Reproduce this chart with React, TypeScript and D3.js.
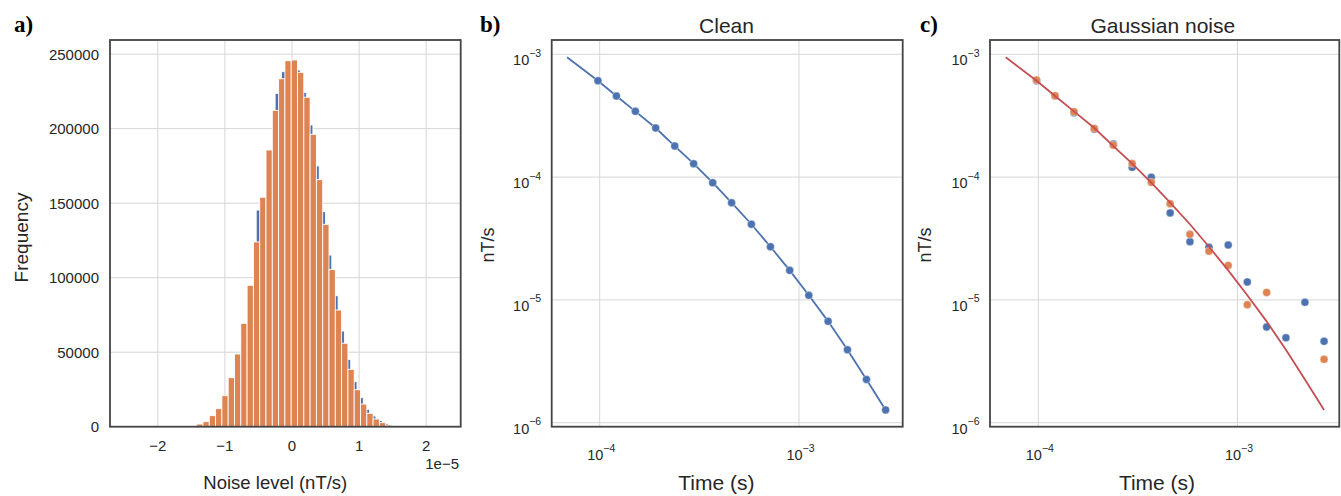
import React from 'react';
import * as d3 from 'd3';

// ---------- Panel a: histogram data (x in units of 1e-5 nT/s) ----------
const orangeCounts = [1800, 3400, 7400, 12100, 20800, 32900, 48800, 69400, 94900, 124000, 154000, 185700, 212300, 233500, 245600, 246100, 237800, 221100, 196200, 165800, 135800, 105400, 78300, 56000, 38500, 24800, 15200, 9000, 5200, 2700, 1100];
const blueCounts = [1500, 3000, 6500, 11000, 19000, 30000, 45000, 65000, 90000, 145400, 152000, 184000, 223700, 238200, 243000, 239400, 224400, 202500, 175000, 144300, 115200, 87900, 64200, 45200, 30200, 19500, 11700, 7200, 4200, 2000, 800];
const orangeBinStart = -1.4203;
const blueBinStart = -1.3786;
const binWidth = 0.0939;
const histXDomain = [-2.712, 2.514];
const histYMax = 259500;
const histXTicks = [-2, -1, 0, 1, 2];
const histYTicks = [0, 50000, 100000, 150000, 200000, 250000];

// ---------- Panels b, c: decay data ----------
const times = [9.8e-5, 1.213e-4, 1.51e-4, 1.91e-4, 2.38e-4, 2.96e-4, 3.69e-4, 4.59e-4, 5.77e-4, 7.19e-4, 8.98e-4, 1.12e-3, 1.4e-3, 1.75e-3, 2.18e-3, 2.72e-3];
const cleanValues = [6.09e-4, 4.57e-4, 3.43e-4, 2.51e-4, 1.79e-4, 1.285e-4, 9.0e-5, 6.19e-5, 4.13e-5, 2.71e-5, 1.74e-5, 1.09e-5, 6.69e-6, 3.93e-6, 2.25e-6, 1.27e-6];
const modelTimes = [6.86e-5, 9.8e-5, 1.213e-4, 1.51e-4, 1.91e-4, 2.38e-4, 2.96e-4, 3.69e-4, 4.59e-4, 5.77e-4, 7.19e-4, 8.98e-4, 1.12e-3, 1.4e-3, 1.75e-3, 2.18e-3, 2.72e-3];
const modelValues = [9.45e-4, 6.09e-4, 4.57e-4, 3.43e-4, 2.51e-4, 1.79e-4, 1.285e-4, 9.0e-5, 6.19e-5, 4.13e-5, 2.71e-5, 1.74e-5, 1.09e-5, 6.69e-6, 3.93e-6, 2.25e-6, 1.27e-6];
const noisyBlue = [6.09e-4, 4.57e-4, 3.34e-4, 2.45e-4, 1.86e-4, 1.2e-4, 9.95e-5, 5.11e-5, 2.98e-5, 2.68e-5, 2.8e-5, 1.4e-5, 6.01e-6, 4.92e-6, 9.55e-6, 4.6e-6];
const noisyOrange: (number | null)[] = [6.18e-4, 4.6e-4, 3.41e-4, 2.49e-4, 1.82e-4, 1.29e-4, 9.07e-5, 6.07e-5, 3.42e-5, 2.49e-5, 1.91e-5, 9.14e-6, 1.15e-5, null, null, 3.28e-6];
const logXTicks = [-4, -3];
const logYTicks = [-3, -4, -5, -6];
const logYDomain = [9.28e-7, 1.307e-3];

const BLUE = '#4C72B0';
const ORANGE = '#DD8452';
const RED = '#C44E52';
const GRID = '#d6d6d6';
const FRAME = '#444444';
const TEXT = '#262626';
const SANS = '"Liberation Sans", Arial, Helvetica, sans-serif';
const SERIF = '"Liberation Serif", "Times New Roman", serif';

const T = 40;
const B = 426.7;

function Frame({ x0, x1 }: { x0: number; x1: number }) {
  return <rect x={x0} y={T} width={x1 - x0} height={B - T} fill="none" stroke={FRAME} strokeWidth={1.8} />;
}

function PanelA() {
  const x0 = 110, x1 = 460.7;
  const x = d3.scaleLinear().domain(histXDomain).range([x0, x1]);
  const y = d3.scaleLinear().domain([0, histYMax]).range([B, T]);
  return (
    <g>
      {histXTicks.map(t => <line key={'gx' + t} x1={x(t)} x2={x(t)} y1={T} y2={B} stroke={GRID} strokeWidth={1} />)}
      {histYTicks.map(t => <line key={'gy' + t} x1={x0} x2={x1} y1={y(t)} y2={y(t)} stroke={GRID} strokeWidth={1} />)}
      {blueCounts.map((c, i) => {
        const a = x(blueBinStart + i * binWidth), b = x(blueBinStart + (i + 1) * binWidth);
        return <rect key={'b' + i} x={a} y={y(c)} width={b - a} height={B - y(c)} fill={BLUE} stroke="#fff" strokeWidth={0.9} />;
      })}
      {orangeCounts.map((c, i) => {
        const a = x(orangeBinStart + i * binWidth), b = x(orangeBinStart + (i + 1) * binWidth);
        return <rect key={'o' + i} x={a} y={y(c)} width={b - a} height={B - y(c)} fill={ORANGE} stroke="#fff" strokeWidth={0.9} />;
      })}
      <Frame x0={x0} x1={x1} />
      {histYTicks.map(t => (
        <text key={'ty' + t} x={x0 - 11} y={y(t) + 5.4} textAnchor="end" fontSize={15} fontFamily={SANS} fill={TEXT}>{t}</text>
      ))}
      {histXTicks.map(t => (
        <text key={'tx' + t} x={x(t)} y={450.7} textAnchor="middle" fontSize={15} fontFamily={SANS} fill={TEXT}>{t < 0 ? '\u2212' + Math.abs(t) : String(t)}</text>
      ))}
      <text x={459} y={469} textAnchor="end" fontSize={15} fontFamily={SANS} fill={TEXT}>1e−5</text>
      <text x={275.3} y={489} textAnchor="middle" fontSize={18.5} fontFamily={SANS} fill={TEXT}>Noise level (nT/s)</text>
      <text transform="translate(28,237.5) rotate(-90)" textAnchor="middle" fontSize={19} fontFamily={SANS} fill={TEXT}>Frequency</text>
      <text x={14} y={32} fontSize={23} fontWeight="bold" fontFamily={SERIF} fill="#000">a)</text>
    </g>
  );
}

function LogAxes({ x, y, x0, x1, title, titleX, xlabelX, ylabelX }: any) {
  return (
    <g>
      {logXTicks.map(e => <line key={'gx' + e} x1={x(Math.pow(10, e))} x2={x(Math.pow(10, e))} y1={T} y2={B} stroke={GRID} strokeWidth={1} />)}
      {logYTicks.map(e => <line key={'gy' + e} x1={x0} x2={x1} y1={y(Math.pow(10, e))} y2={y(Math.pow(10, e))} stroke={GRID} strokeWidth={1} />)}
      {logYTicks.map(e => (
        <text key={'ty' + e} x={x0 - 10.5} y={y(Math.pow(10, e)) + 11} textAnchor="end" fontFamily={SANS} fill={TEXT} fontSize={14.5}>
          10<tspan dy={-8.5} fontSize={10.5}>{'\u2212' + Math.abs(e)}</tspan>
        </text>
      ))}
      {logXTicks.map(e => (
        <text key={'tx' + e} x={x(Math.pow(10, e)) + 1.5} y={460} textAnchor="middle" fontFamily={SANS} fill={TEXT} fontSize={14.5}>
          10<tspan dy={-8.5} fontSize={10.5}>{'\u2212' + Math.abs(e)}</tspan>
        </text>
      ))}
      <text x={titleX} y={33} textAnchor="middle" fontSize={21} fontFamily={SANS} fill={TEXT}>{title}</text>
      <text x={xlabelX} y={490} textAnchor="middle" fontSize={21} fontFamily={SANS} fill={TEXT}>Time (s)</text>
      <text transform={`translate(${ylabelX},245) rotate(-90)`} textAnchor="middle" fontSize={18} fontFamily={SANS} fill={TEXT}>nT/s</text>
    </g>
  );
}

function PanelB() {
  const x0 = 551.7, x1 = 902.7;
  const x = d3.scaleLog().domain([Math.pow(10, -4.2408), Math.pow(10, -2.4797)]).range([x0, x1]);
  const y = d3.scaleLog().domain(logYDomain).range([B, T]);
  const line = d3.line<number>().x((_, i) => x(modelTimes[i])).y(v => y(v));
  return (
    <g>
      <LogAxes x={x} y={y} x0={x0} x1={x1} title="Clean" titleX={726.5} xlabelX={716.3} ylabelX={494} />
      <path d={line(modelValues) || ''} fill="none" stroke={BLUE} strokeWidth={1.8} />
      {cleanValues.map((v, i) => <circle key={i} cx={x(times[i])} cy={y(v)} r={4} fill={BLUE} stroke="#fff" strokeWidth={0.4} />)}
      <Frame x0={x0} x1={x1} />
      <text x={480} y={32} fontSize={23} fontWeight="bold" fontFamily={SERIF} fill="#000">b)</text>
    </g>
  );
}

function PanelC() {
  const x0 = 990, x1 = 1339.3;
  const x = d3.scaleLog().domain([Math.pow(10, -4.2427), Math.pow(10, -2.489)]).range([x0, x1]);
  const y = d3.scaleLog().domain(logYDomain).range([B, T]);
  const line = d3.line<number>().x((_, i) => x(modelTimes[i])).y(v => y(v));
  return (
    <g>
      <LogAxes x={x} y={y} x0={x0} x1={x1} title="Gaussian noise" titleX={1162.8} xlabelX={1157} ylabelX={931} />
      {noisyBlue.map((v, i) => <circle key={'b' + i} cx={x(times[i])} cy={y(v)} r={4} fill={BLUE} stroke="#fff" strokeWidth={0.4} />)}
      {noisyOrange.map((v, i) => v == null ? null : <circle key={'o' + i} cx={x(times[i])} cy={y(v)} r={4} fill={ORANGE} stroke="#fff" strokeWidth={0.4} />)}
      <path d={line(modelValues) || ''} fill="none" stroke={RED} strokeWidth={1.8} />
      <Frame x0={x0} x1={x1} />
      <text x={920} y={32} fontSize={23} fontWeight="bold" fontFamily={SERIF} fill="#000">c)</text>
    </g>
  );
}

export default function App() {
  return (
    <svg width={1341} height={496} viewBox="0 0 1341 496" style={{ position: 'absolute', left: 0, top: 0, background: '#fff' }}>
      <rect width={1341} height={496} fill="#fff" />
      <PanelA />
      <PanelB />
      <PanelC />
    </svg>
  );
}
